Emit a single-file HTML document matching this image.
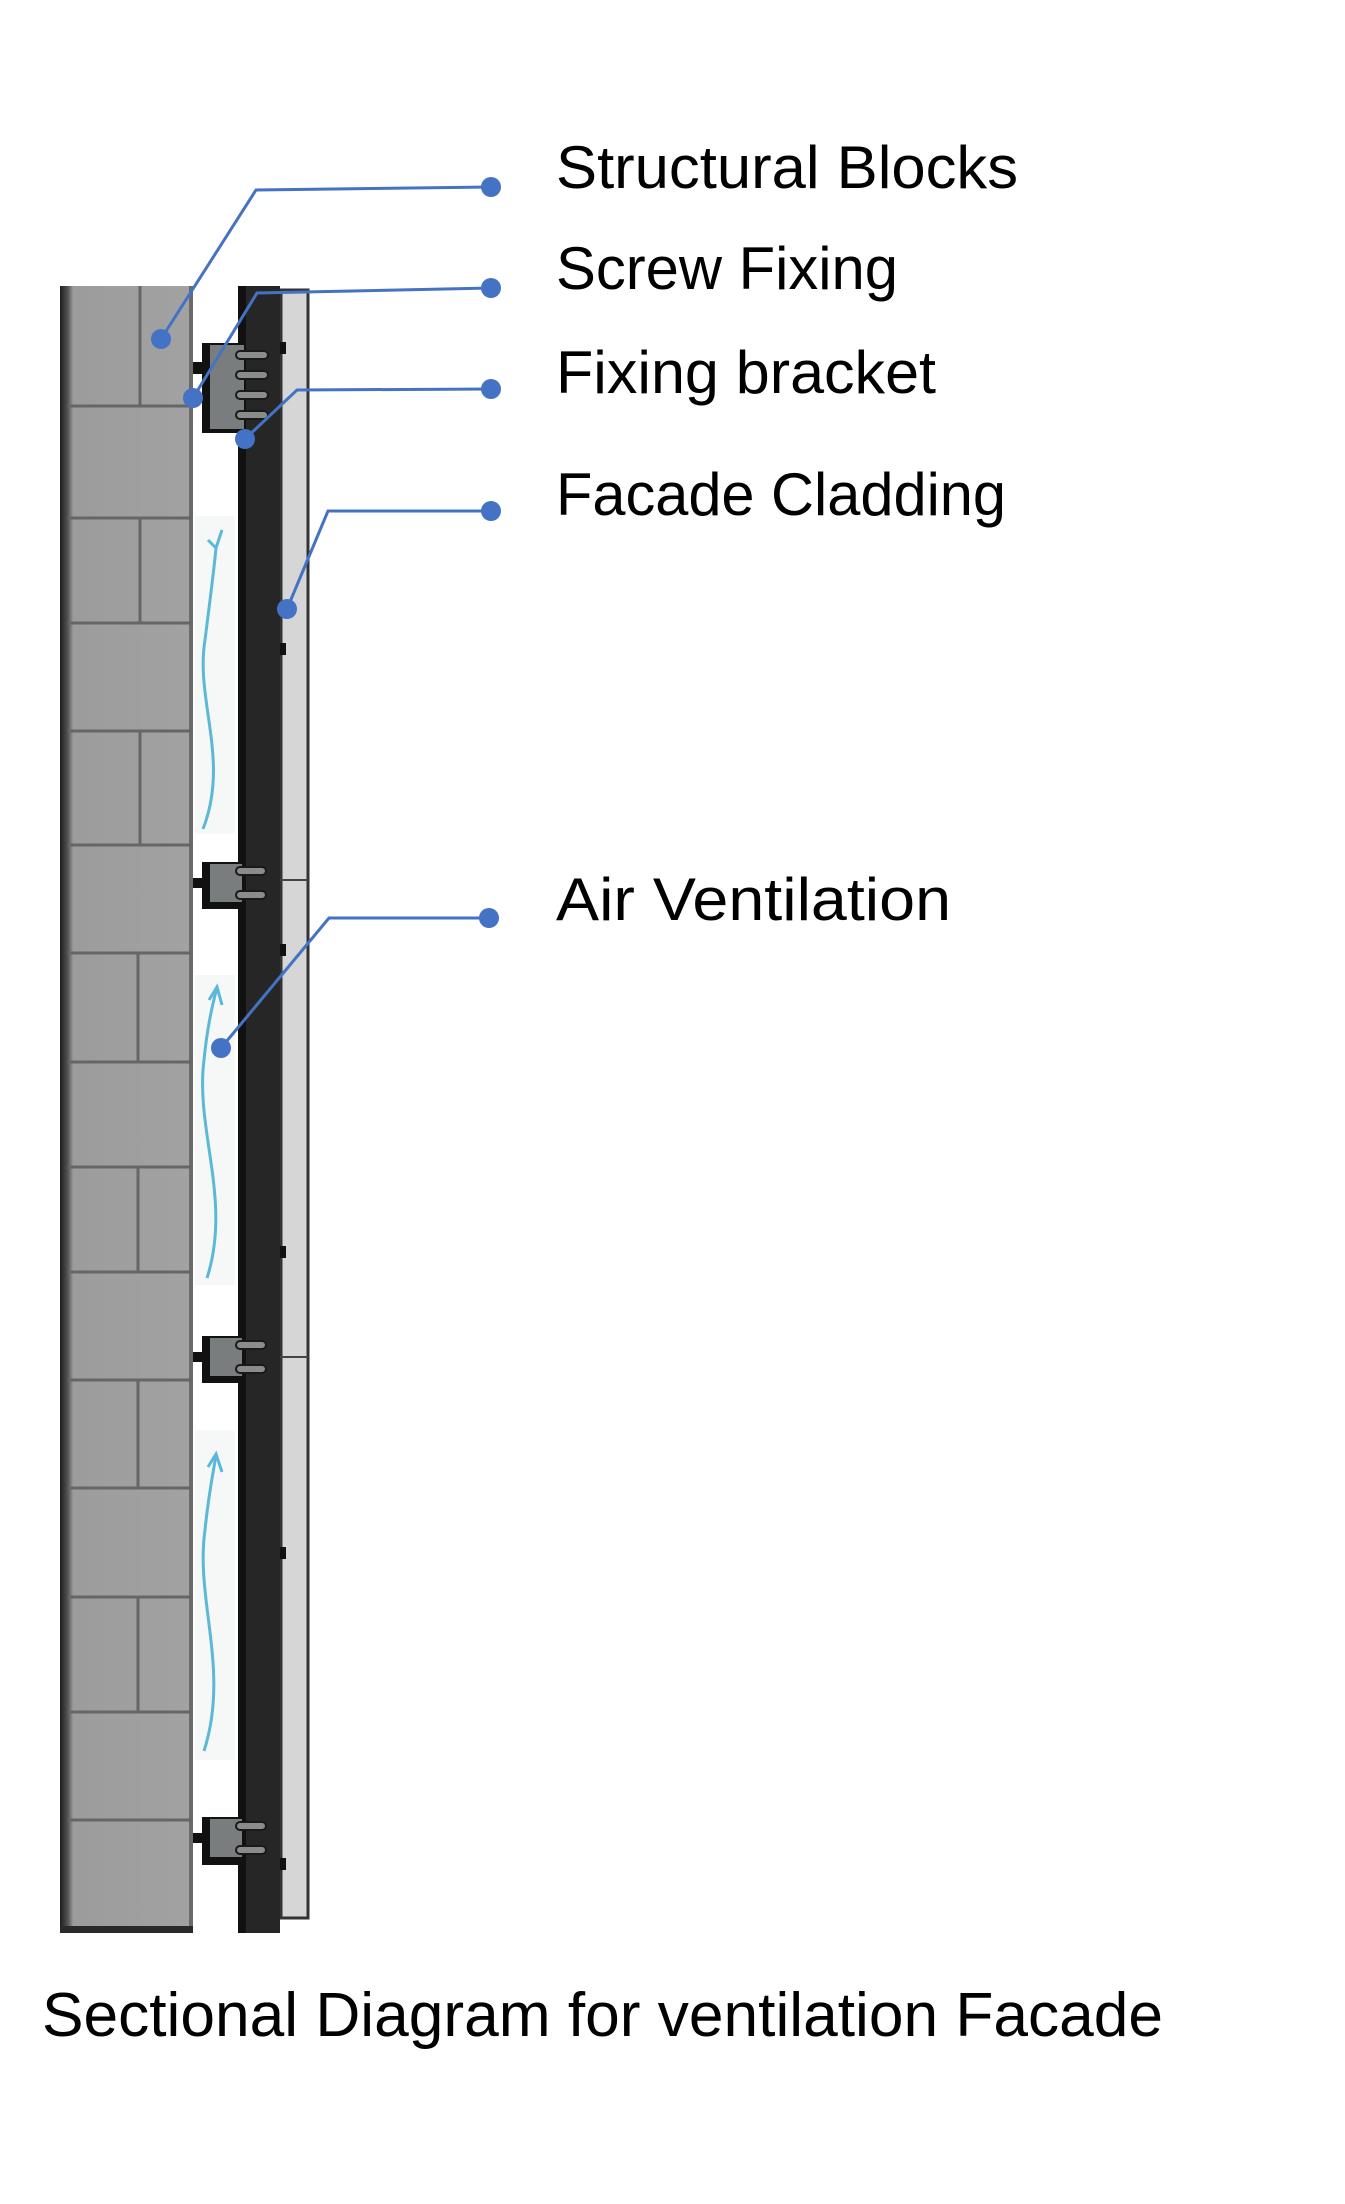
<!DOCTYPE html>
<html><head><meta charset="utf-8"><style>
html,body{margin:0;padding:0;background:#fff;}
svg{display:block;}
text{font-family:"Liberation Sans",sans-serif;fill:#000;}
</style></head><body>
<svg width="1345" height="2204" viewBox="0 0 1345 2204" xmlns="http://www.w3.org/2000/svg">
<defs>
<linearGradient id="wl" x1="0" x2="1" y1="0" y2="0">
<stop offset="0" stop-color="#1e1e1e"/><stop offset="0.06" stop-color="#555"/><stop offset="0.1" stop-color="#9c9c9c"/><stop offset="1" stop-color="#a2a2a2"/>
</linearGradient>
</defs>
<rect x="60" y="286" width="133" height="1647" fill="url(#wl)"/>
<rect x="189" y="286" width="4" height="1647" fill="#6a6a6a"/>
<rect x="60" y="1926" width="133" height="7" fill="#2a2a2a"/>
<g stroke="#666" stroke-width="3">
<line x1="68" y1="406" x2="192" y2="406"/>
<line x1="68" y1="518" x2="192" y2="518"/>
<line x1="68" y1="623" x2="192" y2="623"/>
<line x1="68" y1="731" x2="192" y2="731"/>
<line x1="68" y1="845" x2="192" y2="845"/>
<line x1="68" y1="953" x2="192" y2="953"/>
<line x1="68" y1="1062" x2="192" y2="1062"/>
<line x1="68" y1="1167" x2="192" y2="1167"/>
<line x1="68" y1="1272" x2="192" y2="1272"/>
<line x1="68" y1="1380" x2="192" y2="1380"/>
<line x1="68" y1="1488" x2="192" y2="1488"/>
<line x1="68" y1="1597" x2="192" y2="1597"/>
<line x1="68" y1="1712" x2="192" y2="1712"/>
<line x1="68" y1="1820" x2="192" y2="1820"/>
<line x1="140" y1="286" x2="140" y2="406"/>
<line x1="140" y1="518" x2="140" y2="623"/>
<line x1="140" y1="731" x2="140" y2="845"/>
<line x1="138" y1="953" x2="138" y2="1062"/>
<line x1="138" y1="1167" x2="138" y2="1272"/>
<line x1="138" y1="1380" x2="138" y2="1488"/>
<line x1="138" y1="1597" x2="138" y2="1712"/>
</g>
<rect x="195" y="516" width="40" height="318" fill="#f6f8f8"/>
<rect x="195" y="975" width="40" height="310" fill="#f6f8f8"/>
<rect x="195" y="1430" width="40" height="330" fill="#f6f8f8"/>
<g fill="none" stroke="#5bb8d8" stroke-width="3">
<path d="M203 829 C230 760 195 700 205 640 C210 600 214 570 216 548"/>
<path d="M208 540 L216 548 L222 530"/>
<path d="M207 1278 C232 1200 195 1130 204 1060 C208 1020 214 1000 217 987"/>
<path d="M209 1000 L217 987 L222 1005"/>
<path d="M204 1751 C230 1670 195 1600 205 1530 C209 1490 214 1470 216 1454"/>
<path d="M208 1467 L216 1454 L222 1472"/>
</g>
<rect x="281" y="290" width="27" height="1628" fill="#d6d6d6" stroke="#333" stroke-width="3"/>
<rect x="238" y="286" width="42" height="1647" fill="#262626"/>
<rect x="238" y="286" width="8" height="1647" fill="#111"/>
<g stroke="#444" stroke-width="2">
<line x1="280" y1="880" x2="308" y2="880"/>
<line x1="280" y1="1357" x2="308" y2="1357"/>
</g>
<g fill="#111">
<rect x="280" y="342" width="6" height="12"/>
<rect x="280" y="643" width="6" height="12"/>
<rect x="280" y="944" width="6" height="12"/>
<rect x="280" y="1246" width="6" height="12"/>
<rect x="280" y="1547" width="6" height="12"/>
<rect x="280" y="1858" width="6" height="12"/>
</g>
<g>
<rect x="193" y="362" width="10" height="12" fill="#111"/>
<rect x="202" y="343" width="36" height="90" fill="#111"/>
<rect x="210" y="345" width="34" height="84" fill="#7a7d7d"/>
<rect x="193" y="878" width="10" height="10" fill="#111"/>
<rect x="202" y="862" width="36" height="47" fill="#111"/>
<rect x="210" y="864" width="32" height="38" fill="#7a7d7d"/>
<rect x="193" y="1352" width="10" height="10" fill="#111"/>
<rect x="202" y="1336" width="36" height="47" fill="#111"/>
<rect x="210" y="1338" width="32" height="38" fill="#7a7d7d"/>
<rect x="193" y="1833" width="10" height="10" fill="#111"/>
<rect x="202" y="1817" width="36" height="48" fill="#111"/>
<rect x="210" y="1819" width="32" height="38" fill="#7a7d7d"/>
</g>
<g fill="#8a8c8c" stroke="#1a1a1a" stroke-width="2">
<rect x="236" y="351" width="32" height="8" rx="4"/>
<rect x="236" y="371" width="32" height="8" rx="4"/>
<rect x="236" y="391" width="32" height="8" rx="4"/>
<rect x="236" y="411" width="32" height="8" rx="4"/>
<rect x="236" y="867" width="30" height="8" rx="4"/>
<rect x="236" y="891" width="30" height="8" rx="4"/>
<rect x="236" y="1341" width="30" height="8" rx="4"/>
<rect x="236" y="1365" width="30" height="8" rx="4"/>
<rect x="236" y="1822" width="30" height="8" rx="4"/>
<rect x="236" y="1846" width="30" height="8" rx="4"/>
</g>
<g fill="none" stroke="#4472c4" stroke-width="3">
<polyline points="491,187 256,190 161,339"/>
<polyline points="491,288 257,293 193,398"/>
<polyline points="491,389 297,390 245,439"/>
<polyline points="491,511 328,511 287,609"/>
<polyline points="489,918 329,918 221,1048"/>
</g>
<g fill="#4472c4">
<circle cx="491" cy="187" r="10"/><circle cx="161" cy="339" r="10"/>
<circle cx="491" cy="288" r="10"/><circle cx="193" cy="398" r="10"/>
<circle cx="491" cy="389" r="10"/><circle cx="245" cy="439" r="10"/>
<circle cx="491" cy="511" r="10"/><circle cx="287" cy="609" r="10"/>
<circle cx="489" cy="918" r="10"/><circle cx="221" cy="1048" r="10"/>
</g>
<text x="556" y="188" font-size="60" textLength="462" lengthAdjust="spacingAndGlyphs">Structural Blocks</text>
<text x="556" y="289" font-size="60" textLength="342" lengthAdjust="spacingAndGlyphs">Screw Fixing</text>
<text x="556" y="393" font-size="60" textLength="380" lengthAdjust="spacingAndGlyphs">Fixing bracket</text>
<text x="556" y="515" font-size="60" textLength="450" lengthAdjust="spacingAndGlyphs">Facade Cladding</text>
<text x="556" y="920" font-size="60" textLength="395" lengthAdjust="spacingAndGlyphs">Air Ventilation</text>
<text x="42" y="2036" font-size="62" textLength="1121" lengthAdjust="spacingAndGlyphs">Sectional Diagram for ventilation Facade</text>
</svg>
</body></html>
